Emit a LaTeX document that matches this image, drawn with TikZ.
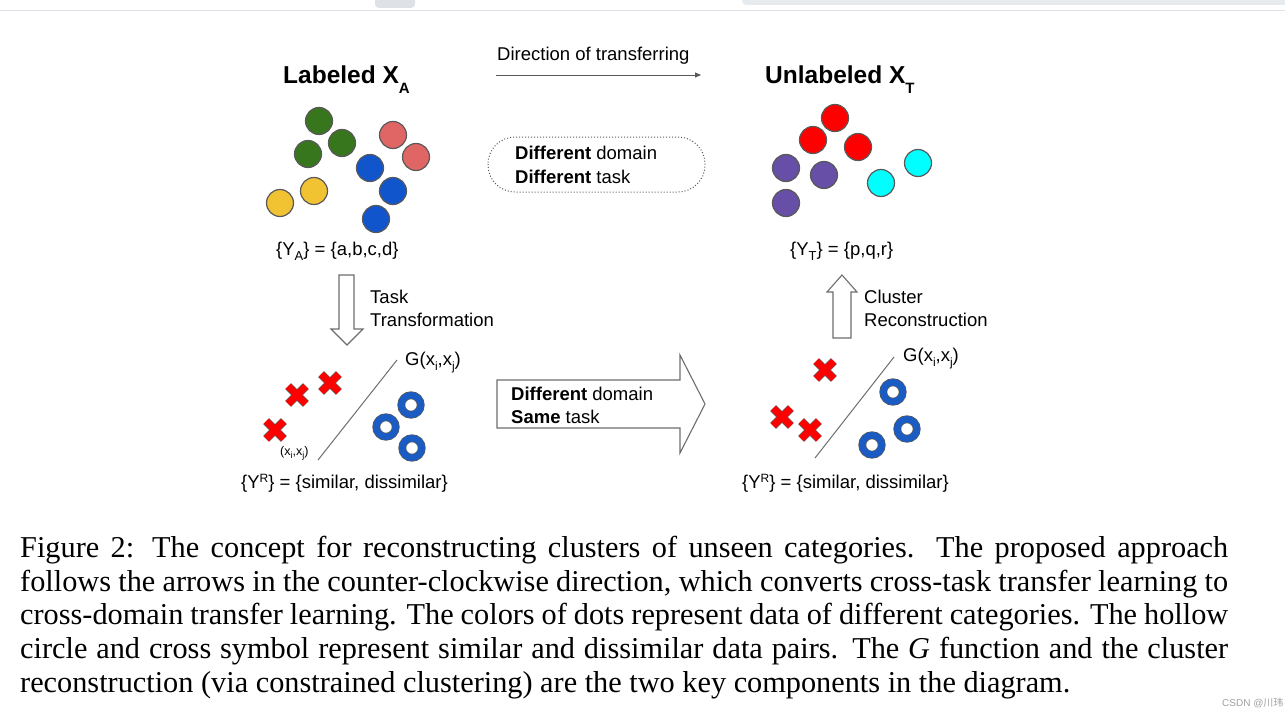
\documentclass[tikz,border=0pt]{standalone}
\usepackage{fontspec}
\setmainfont{Liberation Serif}
\newfontfamily\arial{Liberation Sans}
\newfontfamily\cjkfont{Noto Sans CJK SC}
\usetikzlibrary{arrows.meta,shapes.misc}
\definecolor{gA}{HTML}{38761D}
\definecolor{pA}{HTML}{E06666}
\definecolor{bA}{HTML}{1155CC}
\definecolor{yA}{HTML}{F1C232}
\definecolor{rT}{HTML}{FF0000}
\definecolor{vT}{HTML}{674EA7}
\definecolor{cT}{HTML}{00FFFF}
\definecolor{dotline}{HTML}{595959}
\definecolor{arrgray}{HTML}{6E6E6E}
\definecolor{ringblue}{HTML}{1A5CC4}
\definecolor{tabgray}{HTML}{DEE1E6}
\definecolor{bargray}{HTML}{E8EBEE}
\definecolor{rulecol}{HTML}{E2DEEA}
\newcommand{\dn}[3]{\raisebox{-#1pt}{\fontsize{#2}{#2}\selectfont #3}}
\newcommand{\up}[3]{\raisebox{#1pt}{\fontsize{#2}{#2}\selectfont #3}}
\tikzset{
  dot/.style={circle, draw=dotline, line width=1.2pt, minimum size=27pt, inner sep=0pt},
  xmark/.style={cross out, draw=dotline, line width=0.7pt, double=rT, double distance=7pt, minimum size=17pt, inner sep=0pt},
  ring/.style={circle, draw=dotline, line width=0.7pt, double=ringblue, double distance=6.4pt, minimum size=19.5pt, inner sep=0pt},
  lbl/.style={anchor=base west, inner sep=0pt, font=\arial\fontsize{18.5}{22}\selectfont},
  ttl/.style={anchor=base west, inner sep=0pt, font=\arial\bfseries\fontsize{24.5}{28}\selectfont},
  capline/.style={anchor=base west, inner sep=0pt, font=\fontsize{30.3}{34}\selectfont},
  blockarrow/.style={draw=arrgray, line width=1.1pt, fill=white, line join=miter},
  sepline/.style={draw=arrgray, line width=1pt}
}
\begin{document}
\begin{tikzpicture}[x=1pt,y=-1pt]
\useasboundingbox (0,0) rectangle (1285,717);
\fill[white] (0,0) rectangle (1285,717);
% screenshot chrome
\begin{scope}
\clip (0,0) rectangle (1285,717);
\fill[tabgray, rounded corners=4pt] (375,-10) rectangle (415,8);
\fill[bargray, rounded corners=4pt] (742,-10) rectangle (1295,5);
\end{scope}
\draw[rulecol, line width=1pt] (0,10.5) -- (1285,10.5);

% titles
\node[ttl] (tA) at (283,83) {Labeled X\dn{10}{15}{A}};
\node[ttl] (tT) at (765,83) {Unlabeled X\dn{10}{15}{T}};

% labeled dots
\node[dot, fill=gA] (g1) at (319,121) {};
\node[dot, fill=gA] (g2) at (308,154) {};
\node[dot, fill=gA] (g3) at (342,143) {};
\node[dot, fill=pA] (p1) at (393,135) {};
\node[dot, fill=pA] (p2) at (416,157) {};
\node[dot, fill=bA] (b1) at (370,168) {};
\node[dot, fill=bA] (b2) at (393,191) {};
\node[dot, fill=bA] (b3) at (376,219) {};
\node[dot, fill=yA] (y1) at (280,203) {};
\node[dot, fill=yA] (y2) at (314,191) {};

% unlabeled dots
\node[dot, fill=rT] (r1) at (835,118) {};
\node[dot, fill=rT] (r2) at (813,140) {};
\node[dot, fill=rT] (r3) at (858,147) {};
\node[dot, fill=vT] (v1) at (786,168) {};
\node[dot, fill=vT] (v2) at (824,175) {};
\node[dot, fill=vT] (v3) at (786,203) {};
\node[dot, fill=cT] (c1) at (881,183) {};
\node[dot, fill=cT] (c2) at (918,163) {};

\node[lbl] (yA) at (276,255) {\{Y\dn{5}{13}{A}\} = \{a,b,c,d\}};
\node[lbl] (yT) at (790,255) {\{Y\dn{5}{13}{T}\} = \{p,q,r\}};

% direction arrow
\node[lbl] (dir) at (497,61) {Direction of transferring};
\coordinate (d1) at (496,75);
\coordinate (d2) at (701,75);
\draw[draw=dotline, line width=0.9pt, -{Triangle[length=6pt,width=5pt]}] (d1) -- (d2);

% dotted box
\draw[draw=dotline, line width=1pt, dotted, rounded corners=27pt] (488,137) rectangle (705,192);
\node[lbl] (dd1) at (515,159) {\textbf{Different} domain};
\node[lbl] (dd2) at (515,183) {\textbf{Different} task};

% down arrow
\draw[blockarrow] (339,275) -- (354,275) -- (354,329) -- (363,329) -- (347,345) -- (331,329) -- (339,329) -- cycle;
\node[lbl] (tt1) at (370,303) {Task};
\node[lbl] (tt2) at (370,326) {Transformation};

% up arrow
\draw[blockarrow] (833,338) -- (851,338) -- (851,292) -- (857,292) -- (842,275) -- (827,292) -- (833,292) -- cycle;
\node[lbl] (cr1) at (864,303) {Cluster};
\node[lbl] (cr2) at (864,326) {Reconstruction};

% big arrow
\draw[blockarrow] (497,380) -- (680,380) -- (680,355) -- (705,404) -- (680,453) -- (680,428) -- (497,428) -- cycle;
\node[lbl] (sd1) at (511,400) {\textbf{Different} domain};
\node[lbl] (sd2) at (511,423) {\textbf{Same} task};

% bottom left
\coordinate (la) at (318,460);
\coordinate (lb) at (397,360);
\draw[sepline] (la) -- (lb);
\node[lbl] (GL) at (405,365) {G(x\dn{5}{12}{i},x\dn{5}{12}{j})};
\node[xmark] (xl1) at (330,383) {};
\node[xmark] (xl2) at (297,395) {};
\node[xmark] (xl3) at (275,430) {};
\node[anchor=base west, inner sep=0pt, font=\arial\fontsize{12.5}{14}\selectfont] (pxl) at (280,455) {(x\dn{3}{9}{i},x\dn{3}{9}{j})};
\node[ring] (ol1) at (411,405) {};
\node[ring] (ol2) at (386,427) {};
\node[ring] (ol3) at (412,448) {};
\node[lbl] (yRL) at (241,488) {\{Y\up{6}{12}{R}\} = \{similar, dissimilar\}};

% bottom right
\coordinate (ra) at (815,458);
\coordinate (rb) at (894,357);
\draw[sepline] (ra) -- (rb);
\node[lbl] (GR) at (903,361) {G(x\dn{5}{12}{i},x\dn{5}{12}{j})};
\node[xmark] (xr1) at (825,370) {};
\node[xmark] (xr2) at (782,417) {};
\node[xmark] (xr3) at (810,430) {};
\node[ring] (or1) at (893,392) {};
\node[ring] (or2) at (907,429) {};
\node[ring] (or3) at (872,445) {};
\node[lbl] (yRR) at (742,488) {\{Y\up{6}{12}{R}\} = \{similar, dissimilar\}};

% caption
\node[capline] (cap1) at (20,557) {\makebox[1208pt][s]{Figure 2: The concept for reconstructing clusters of unseen categories. The proposed approach}};
\node[capline] (cap2) at (20,591) {\makebox[1208pt][s]{follows the arrows in the counter-clockwise direction, which converts cross-task transfer learning to}};
\node[capline] (cap3) at (20,624.5) {\makebox[1208pt][s]{cross-domain transfer learning. The colors of dots represent data of different categories. The hollow}};
\node[capline] (cap4) at (20,658) {\makebox[1208pt][s]{circle and cross symbol represent similar and dissimilar data pairs. The \textit{G} function and the cluster}};
\node[capline] (cap5) at (20,692) {reconstruction (via constrained clustering) are the two key components in the diagram.};

% watermark
\node[anchor=base west, inner sep=0pt, text={rgb,255:red,160;green,160;blue,160}, font=\fontsize{10}{12}\selectfont] (wm) at (1222,706) {{\arial CSDN @}{\cjkfont 川玮}};
\end{tikzpicture}
\end{document}
